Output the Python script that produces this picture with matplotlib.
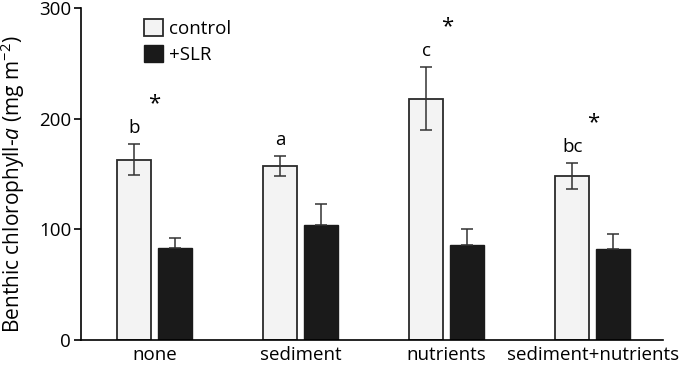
import numpy as np
import matplotlib
matplotlib.use('Agg')
import matplotlib.pyplot as plt
from matplotlib.patches import Patch

plt.rcParams['font.family'] = ['Open Sans', 'DejaVu Sans']
plt.rcParams['mathtext.fontset'] = 'custom'
plt.rcParams['mathtext.rm'] = 'Open Sans'
plt.rcParams['mathtext.it'] = 'Open Sans:italic'

# data
groups = ['none', 'sediment', 'nutrients', 'sediment+nutrients']
control = [163, 157, 218, 148]
control_err = [14, 9, 28.5, 11.5]
slr = [83, 104, 86, 82]
slr_err = [9, 19, 14, 14]
letters = ['b', 'a', 'c', 'bc']
signif = [True, False, True, True]

x = np.arange(len(groups))
width = 0.232
off = 0.14

fig = plt.figure(figsize=(6.85, 3.65), dpi=100)
ax = fig.add_axes([0.118, 0.0685, 0.85, 0.91])

ax.bar(x - off, control, width, color='#f3f3f3', edgecolor='#2a2a2a', linewidth=1.3, zorder=2)
ax.bar(x + off, slr, width, color='#1a1a1a', edgecolor='#1a1a1a', linewidth=1.0, zorder=2)
ax.errorbar(x - off, control, yerr=control_err, fmt='none', ecolor='#333333',
            elinewidth=1.1, capsize=4, capthick=1.1, zorder=3)
ax.errorbar(x + off, slr, yerr=[[0] * len(slr), slr_err], fmt='none', ecolor='#333333',
            elinewidth=1.1, capsize=4, capthick=1.1, zorder=3)

# significance letters above control bars, asterisks above group
for i in range(len(groups)):
    top = control[i] + control_err[i]
    ax.text(x[i] - off, top + 10, letters[i], ha='center', va='baseline', fontsize=13.5)
    if signif[i]:
        ax.text(x[i], top + 46, '*', ha='center', va='top', fontsize=16)

ax.set_xlim(-0.503, 3.48)
ax.set_ylim(0, 300)
ax.set_yticks([0, 100, 200, 300])
ax.set_xticks(x)
ax.set_xticklabels(groups, fontsize=13.5)
ax.tick_params(axis='x', length=0, pad=4)
ax.tick_params(axis='y', labelsize=13.5, length=5, width=1.2, direction='out', pad=2)
for s in ['top', 'right']:
    ax.spines[s].set_visible(False)
ax.spines['left'].set_linewidth(1.2)
ax.spines['bottom'].set_linewidth(1.2)
ax.set_ylabel(r'Benthic chlorophyll-$\it{a}$ (mg m$^{-2}$)', fontsize=15)
ax.yaxis.set_label_coords(-0.092, 0.47)

handles = [Patch(facecolor='#f3f3f3', edgecolor='#2a2a2a', linewidth=1.3, label='control'),
           Patch(facecolor='#1a1a1a', edgecolor='#1a1a1a', label='+SLR')]
ax.legend(handles=handles, loc='upper left', bbox_to_anchor=(0.108, 0.965), frameon=False,
          fontsize=13.5, handlelength=1.05, handleheight=1.0, handletextpad=0.3,
          labelspacing=0.35, borderaxespad=0, borderpad=0)

fig.savefig('out.png', dpi=100)
